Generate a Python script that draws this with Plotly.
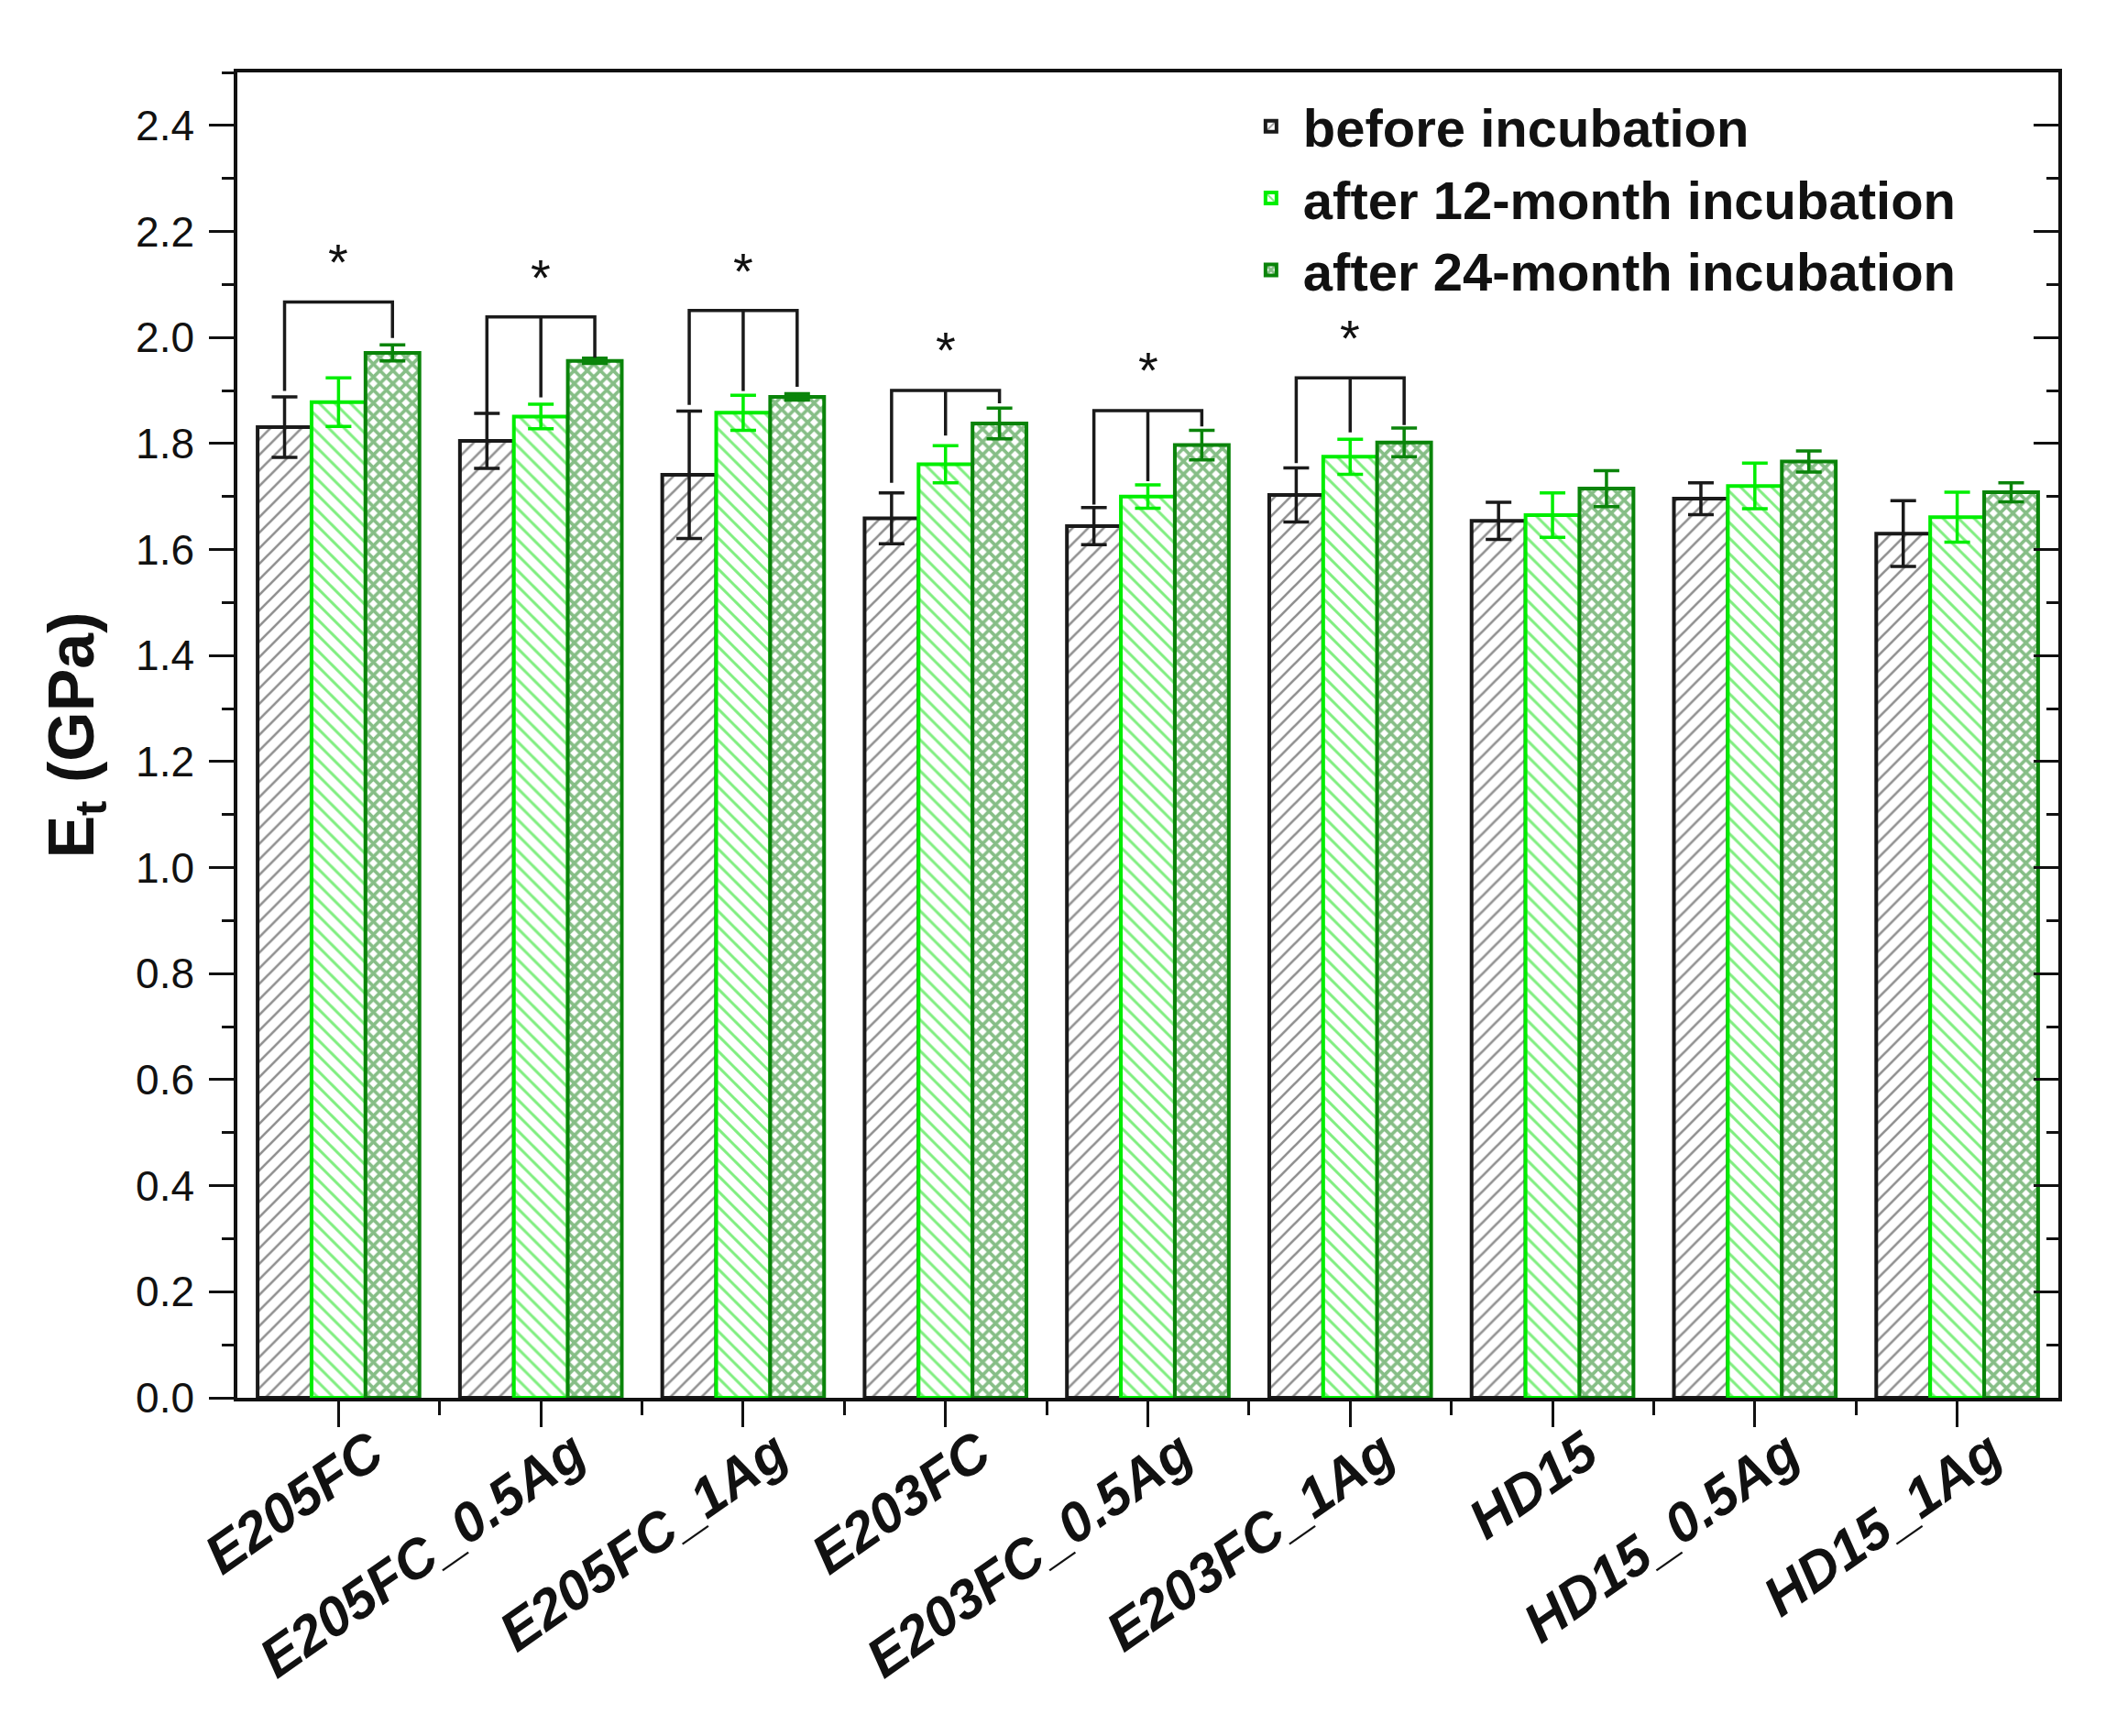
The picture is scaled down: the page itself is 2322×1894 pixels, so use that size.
import plotly.graph_objects as go

# ---------------- data ----------------
categories = ["E205FC", "E205FC_0.5Ag", "E205FC_1Ag", "E203FC", "E203FC_0.5Ag",
              "E203FC_1Ag", "HD15", "HD15_0.5Ag", "HD15_1Ag"]
series_names = ["before incubation", "after 12-month incubation", "after 24-month incubation"]

before = [1.831, 1.805, 1.741, 1.659, 1.644, 1.703, 1.654, 1.696, 1.630]
before_err = [0.057, 0.052, 0.120, 0.048, 0.035, 0.051, 0.035, 0.030, 0.062]
m12 = [1.878, 1.851, 1.858, 1.761, 1.700, 1.775, 1.665, 1.720, 1.661]
m12_err = [0.046, 0.023, 0.033, 0.035, 0.022, 0.033, 0.042, 0.043, 0.047]
m24 = [1.971, 1.956, 1.888, 1.838, 1.797, 1.802, 1.715, 1.766, 1.708]
m24_err = [0.015, 0.005, 0.006, 0.029, 0.028, 0.027, 0.034, 0.020, 0.018]

# significance brackets (groups 0..5)
bracket_top = [2.067, 2.039, 2.051, 1.900, 1.862, 1.924]
leg_left = [1.899, 1.858, 1.873, 1.726, 1.685, 1.763]
leg_mid = [None, 1.887, 1.899, 1.815, 1.729, 1.821]
leg_right = [1.999, 1.962, 1.907, 1.876, 1.832, 1.835]
star_y = [2.164, 2.135, 2.146, 1.997, 1.959, 2.020]

y_ticks = [0.0, 0.2, 0.4, 0.6, 0.8, 1.0, 1.2, 1.4, 1.6, 1.8, 2.0, 2.2, 2.4]

# ---------------- styling ----------------
FONT = "Arial, Liberation Sans, sans-serif"
positions = list(range(len(categories)))
BARGAP = 0.2
bar_w = (1 - BARGAP) / 3

styles = [
    dict(line="#1a1a1a", fg="#222222", shape="/", size=12, sol=0.22, err="#1a1a1a"),
    dict(line="#00ee00", fg="#00dd00", shape="\\", size=12, sol=0.25, err="#00ee00"),
    dict(line="#0a840a", fg="#0e7e0e", shape="x", size=10, sol=0.6, err="#0a840a"),
]
values = [before, m12, m24]
errors = [before_err, m12_err, m24_err]

fig = go.Figure()
for name, vals, errs, st in zip(series_names, values, errors, styles):
    fig.add_trace(go.Bar(
        x=positions, y=vals, name=name,
        marker=dict(color="white",
                    line=dict(color=st["line"], width=4),
                    pattern=dict(shape=st["shape"], fgcolor=st["fg"], bgcolor="white",
                                 size=st["size"], solidity=st["sol"])),
        error_y=dict(type="data", array=errs, visible=True, color=st["err"],
                     thickness=3.5, width=14),
    ))

# brackets as line traces on the right-hand y axis (same scale)
bx, by = [], []
for i in range(len(bracket_top)):
    xl, xm, xr = positions[i] - bar_w, positions[i], positions[i] + bar_w
    bx += [xl, xl, xr, xr, None]
    by += [leg_left[i], bracket_top[i], bracket_top[i], leg_right[i], None]
    if leg_mid[i] is not None:
        bx += [xm, xm, None]
        by += [bracket_top[i], leg_mid[i], None]
fig.add_trace(go.Scatter(x=bx, y=by, mode="lines", yaxis="y2", showlegend=False,
                         line=dict(color="#1a1a1a", width=3.5), hoverinfo="skip"))

for i, sy in enumerate(star_y):
    fig.add_annotation(x=positions[i], y=sy, text="*", showarrow=False,
                       font=dict(family=FONT, size=56, color="#111"),
                       yanchor="middle", yshift=-12)

fig.update_layout(
    width=2322, height=1894,
    margin=dict(l=259, r=76, t=79, b=369),
    paper_bgcolor="white", plot_bgcolor="white",
    barmode="group", bargap=BARGAP, bargroupgap=0,
    font=dict(family=FONT, color="#111"),
    legend=dict(x=0.55, y=0.99, xanchor="left", yanchor="top",
                font=dict(family=FONT, size=58, color="#111", weight="bold"),
                bgcolor="rgba(0,0,0,0)", tracegroupgap=0, itemwidth=60),
    xaxis=dict(range=[-0.5, 8.5], tickmode="array", tickvals=positions, ticktext=categories,
               tickangle=-35, ticks="outside", ticklen=28, tickwidth=3, tickcolor="#111",
               tickfont=dict(family=FONT, size=60, color="#111", weight="bold", style="italic"),
               ticklabelshift=36, ticklabelstandoff=-30,
               showline=True, linewidth=3.5, linecolor="#111", mirror=True,
               showgrid=False, zeroline=False,
               minor=dict(tickmode="array", tickvals=[p + 0.5 for p in positions[:-1]],
                          ticks="outside", ticklen=15, tickwidth=3, tickcolor="#111")),
    yaxis=dict(range=[0, 2.5], tickmode="array", tickvals=y_ticks,
               ticktext=[f"{v:.1f}" for v in y_ticks],
               ticks="outside", ticklen=27, tickwidth=3, tickcolor="#111",
               tickfont=dict(family=FONT, size=46, color="#111"),
               ticklabelstandoff=7,
               showline=True, linewidth=3.5, linecolor="#111",
               showgrid=False, zeroline=False,
               minor=dict(dtick=0.1, tick0=0, ticks="outside", ticklen=13, tickwidth=3,
                          tickcolor="#111"),
               title=dict(text="E<sub>t</sub> (GPa)", standoff=24,
                          font=dict(family=FONT, size=70, color="#111", weight="bold"))),
    yaxis2=dict(range=[0, 2.5], overlaying="y", side="right", anchor="x",
                tickmode="array", tickvals=y_ticks, showticklabels=False,
                ticks="inside", ticklen=27, tickwidth=3, tickcolor="#111",
                showline=True, linewidth=3.5, linecolor="#111",
                showgrid=False, zeroline=False,
                minor=dict(dtick=0.1, tick0=0, ticks="inside", ticklen=13, tickwidth=3,
                           tickcolor="#111")),
)

fig.write_html("out.html", config={"displayModeBar": False},
               post_script="document.body.style.margin='0';")
